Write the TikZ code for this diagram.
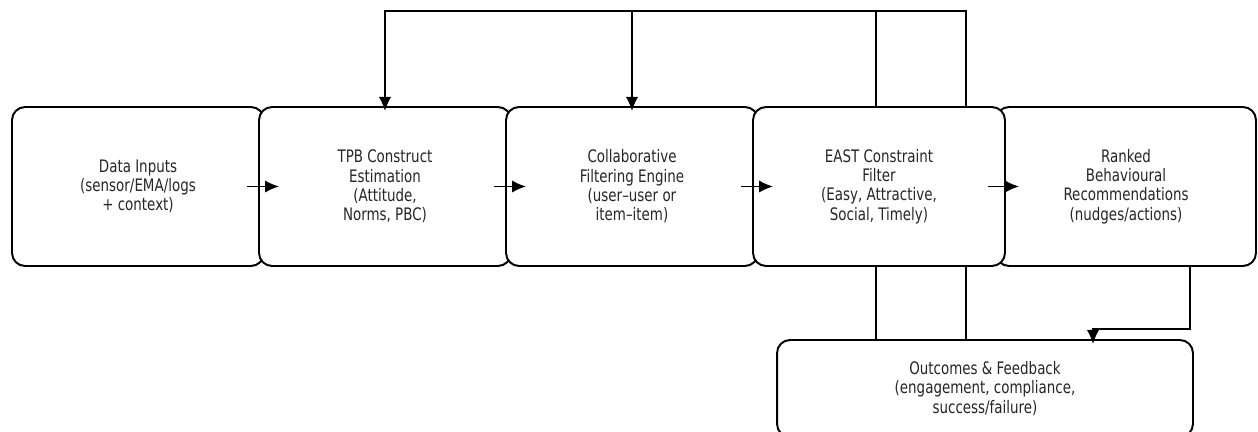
\documentclass[tikz,border=0pt]{standalone}
\usepackage{fontspec}
\setmainfont{DejaVu Sans}[FakeStretch=0.78]
\usepackage{tikz}
\usetikzlibrary{arrows.meta}

\tikzset{
  stage/.style={rectangle, draw, line width=1.1pt, rounded corners=0.26cm, fill=white, text=black!85,
    minimum width=5.04cm, minimum height=3.18cm, inner sep=0pt, align=center, font=\fontsize{9.8}{11}\selectfont},
  flow/.style={line width=0.9pt, -{Latex[length=8pt,width=7pt]}},
}

\begin{document}
\begin{tikzpicture}[x=0.02cm, y=-0.02cm]
            \useasboundingbox (0,0) rectangle (1258,432);
            % Nodes
            \node[stage] (n1) at (138,186.5) {Data Inputs\\(sensor/EMA/logs\\+ context)};
            \node[stage] (n2) at (385,186.5) {TPB Construct\\Estimation\\(Attitude,\\Norms, PBC)};
            \node[stage] (n3) at (632,186.5) {Collaborative\\Filtering Engine\\(user--user or\\item--item)};
            \node[stage, minimum width=5.2cm] (n5) at (1126,186.5) {Ranked\\Behavioural\\Recommendations\\(nudges/actions)};
            \node[stage, minimum width=8.32cm, minimum height=1.94cm] (out) at (985,388.5) {Outcomes \& Feedback\\(engagement, compliance,\\success/failure)};
            \coordinate (t1) at (966,11);
            \coordinate (t2) at (876,11);
            \coordinate (r1) at (1093,329);

            % Feedback edges (pass behind the EAST box)
            \draw[flow, shorten >=-0.1cm] (t1 |- out.north) -- (t1) -| (n2.north);
            \draw[flow, shorten >=-0.1cm] (t2 |- out.north) -- (t2) -| (n3.north);
            \node[stage] (n4) at (879,186.5) {EAST Constraint\\Filter\\(Easy, Attractive,\\Social, Timely)};

            % Edges
            \draw[flow] ([xshift=-0.36cm]n1.east) -- ([xshift=0.42cm]n2.west);
            \draw[flow] ([xshift=-0.36cm]n2.east) -- ([xshift=0.42cm]n3.west);
            \draw[flow] ([xshift=-0.36cm]n3.east) -- ([xshift=0.42cm]n4.west);
            \draw[flow] ([xshift=-0.36cm]n4.east) -- ([xshift=0.48cm]n5.west);
            \draw[flow, shorten >=-0.1cm] ([xshift=1.28cm]n5.south) |- (r1) -- (r1 |- out.north);
        \end{tikzpicture}
\end{document}
